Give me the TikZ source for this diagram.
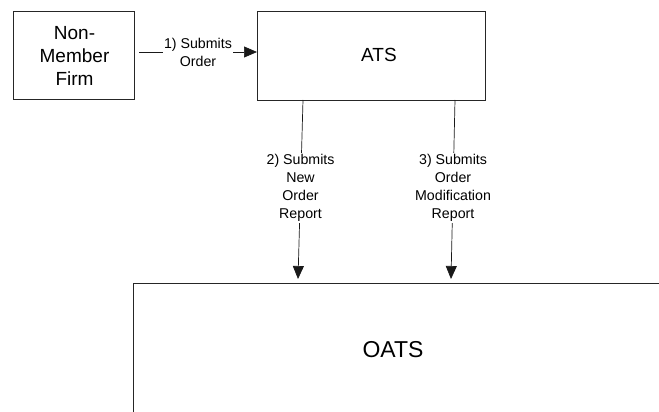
\documentclass[tikz,border=0pt]{standalone}
\usepackage{fontspec}
\setmainfont{Liberation Sans}
\usetikzlibrary{arrows.meta}
\begin{document}
\begin{tikzpicture}[x=1pt,y=-1pt,
  box/.style={draw=black!85, line width=0.9pt, inner sep=0pt},
  big/.style={font=\fontsize{19}{23}\selectfont, align=center, inner sep=0pt},
  huge/.style={font=\fontsize{23}{27}\selectfont, inner sep=0pt},
  lbl/.style={font=\fontsize{14.2}{18}\selectfont, align=center, fill=white, inner sep=1.5pt},
  arr/.style={-{Triangle[length=13pt,width=11pt]}, line width=0.7pt, draw=black!90}]
\useasboundingbox (0,0) rectangle (659,412);
\clip (0,0) rectangle (659,412);
% boxes
\node[box, anchor=north west, minimum width=121pt, minimum height=88pt] (nm) at (13,11) {};
\node[big] (nmt) at (74.5,56) {Non-\\Member\\Firm};
\node[box, anchor=north west, minimum width=228pt, minimum height=89pt] (ats) at (257,11) {};
\node[big] (atst) at (379,55) {ATS};
\node[box, anchor=north west, minimum width=600pt, minimum height=200pt] (oats) at (133,283) {};
\node[huge] (oatst) at (393,350) {OATS};
% connectors
\coordinate (a1) at (139,52);
\draw[arr] (a1) -- (ats.west |- a1) node[lbl, midway] {1) Submits\\Order};
\coordinate (s2) at (303,100);
\coordinate (e2) at (298,279);
\draw[arr] (s2) -- (e2) node[lbl, pos=0.49] {2) Submits\\New\\Order\\Report};
\coordinate (s3) at (455,100);
\coordinate (e3) at (451,279);
\draw[arr] (s3) -- (e3) node[lbl, pos=0.49] {3) Submits\\Order\\Modification\\Report};
\end{tikzpicture}
\end{document}
